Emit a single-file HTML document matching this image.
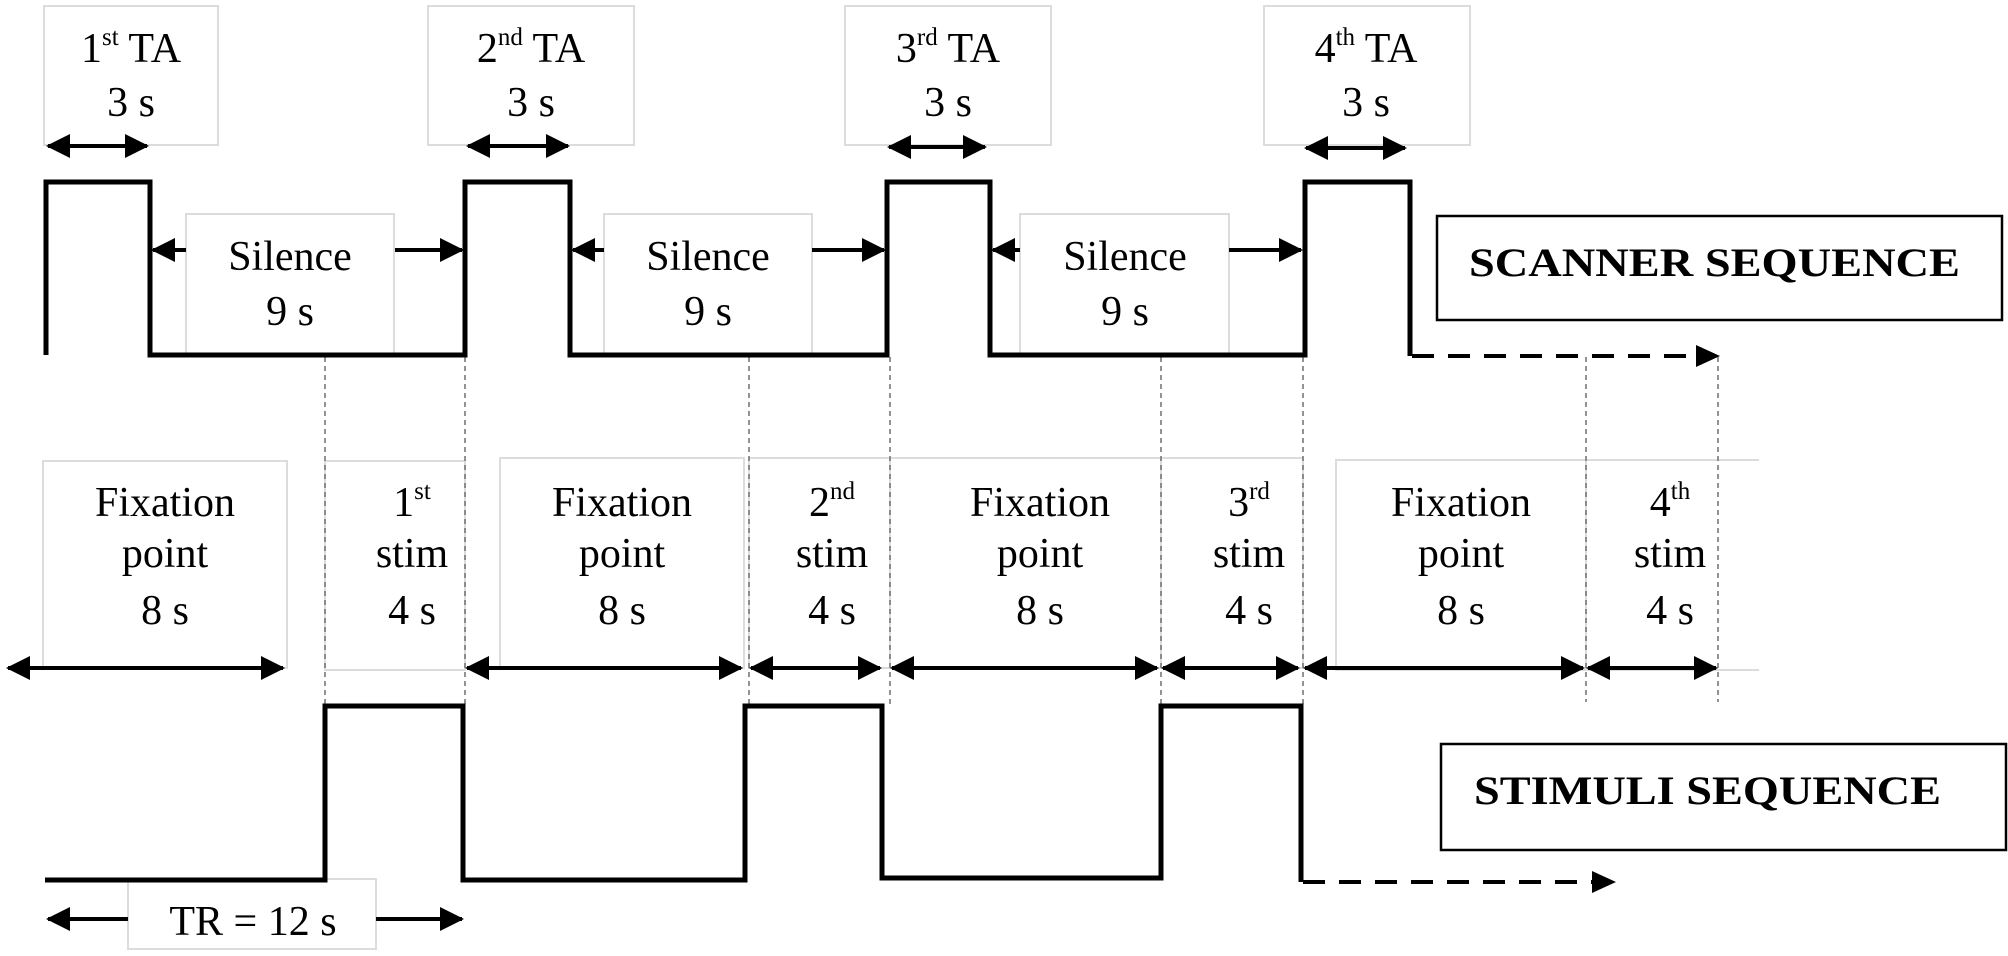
<!DOCTYPE html>
<html><head><meta charset="utf-8"><style>
html,body{margin:0;padding:0;background:#fff;}
svg{display:block;}
text{font-family:"Liberation Serif",serif;fill:#000;}
</style></head><body>
<svg width="2008" height="956" viewBox="0 0 2008 956" xmlns="http://www.w3.org/2000/svg">
<defs>
<marker id="ah" markerWidth="6" markerHeight="6" refX="5.5" refY="3" orient="auto-start-reverse" markerUnits="strokeWidth"><path d="M0,0 L6,3 L0,6 z" fill="#000"/></marker>
</defs>
<g fill="none" stroke="#dcdcdc" stroke-width="2">
<rect x="44" y="6" width="174" height="139"/>
<rect x="428" y="6" width="206" height="139"/>
<rect x="845" y="6" width="206" height="139"/>
<rect x="1264" y="6" width="206" height="139"/>
<rect x="186" y="214" width="208" height="141"/>
<rect x="604" y="214" width="208" height="141"/>
<rect x="1020" y="214" width="209" height="141"/>
<rect x="43" y="461" width="244" height="207"/>
<rect x="325" y="461" width="140" height="209"/>
<rect x="500" y="458" width="244" height="210"/>
<rect x="749" y="458" width="141" height="210"/>
<rect x="890" y="458" width="271" height="210"/>
<rect x="1161" y="458" width="142" height="210"/>
<rect x="1336" y="460" width="250" height="210"/>
<line x1="1586" y1="460" x2="1759" y2="460"/>
<line x1="1586" y1="670" x2="1759" y2="670"/>
<rect x="128" y="879" width="248" height="70"/>
</g>
<g stroke="#777" stroke-width="1.6" stroke-dasharray="5,4">
<line x1="325" y1="357" x2="325" y2="705"/>
<line x1="465" y1="357" x2="465" y2="705"/>
<line x1="749" y1="357" x2="749" y2="705"/>
<line x1="890" y1="357" x2="890" y2="705"/>
<line x1="1161" y1="357" x2="1161" y2="705"/>
<line x1="1303" y1="357" x2="1303" y2="705"/>
<line x1="1586" y1="357" x2="1586" y2="702"/>
<line x1="1718" y1="357" x2="1718" y2="702"/>
</g>
<g fill="none" stroke="#000" stroke-width="5" stroke-linejoin="miter">
<polyline points="46,355 46,182 150,182 150,355 465,355 465,182 570,182 570,355 887,355 887,182 990,182 990,355 1305,355 1305,182 1410,182 1410,356"/>
<polyline points="45,880 325,880 325,706 463,706 463,880 745,880 745,706 882,706 882,878 1161,878 1161,706 1301,706 1301,882"/>
</g>
<g stroke="#000" stroke-width="4" stroke-dasharray="22,14" fill="none">
<line x1="1412" y1="356" x2="1700" y2="356"/>
<line x1="1303" y1="882" x2="1596" y2="882"/>
</g>
<g fill="#000">
<path d="M1720,356 L1696,345 L1696,367 z"/>
<path d="M1616,882 L1592,871 L1592,893 z"/>
</g>
<g stroke="#000" stroke-width="4" fill="none" marker-start="url(#ah)" marker-end="url(#ah)">
<line x1="48" y1="146" x2="147" y2="146"/>
<line x1="468" y1="146" x2="568" y2="146"/>
<line x1="889" y1="147" x2="985" y2="147"/>
<line x1="1306" y1="148" x2="1405" y2="148"/>
<line x1="8" y1="668" x2="283" y2="668"/>
<line x1="467" y1="668" x2="741" y2="668"/>
<line x1="751" y1="668" x2="880" y2="668"/>
<line x1="892" y1="668" x2="1157" y2="668"/>
<line x1="1163" y1="668" x2="1298" y2="668"/>
<line x1="1305" y1="668" x2="1583" y2="668"/>
<line x1="1588" y1="668" x2="1716" y2="668"/>
</g>
<g stroke="#000" stroke-width="4" fill="none" marker-end="url(#ah)">
<line x1="186" y1="250" x2="153" y2="250"/>
<line x1="395" y1="250" x2="462" y2="250"/>
<line x1="604" y1="250" x2="573" y2="250"/>
<line x1="812" y1="250" x2="884" y2="250"/>
<line x1="1020" y1="250" x2="993" y2="250"/>
<line x1="1229" y1="250" x2="1301" y2="250"/>
<line x1="128" y1="919" x2="48" y2="919"/>
<line x1="376" y1="919" x2="462" y2="919"/>
</g>
<g font-size="42" text-anchor="middle">
<text x="131" y="62">1<tspan font-size="25" dy="-17">st</tspan><tspan dy="17"> TA</tspan></text>
<text x="131" y="116">3 s</text>
<text x="531" y="62">2<tspan font-size="25" dy="-17">nd</tspan><tspan dy="17"> TA</tspan></text>
<text x="531" y="116">3 s</text>
<text x="948" y="62">3<tspan font-size="25" dy="-17">rd</tspan><tspan dy="17"> TA</tspan></text>
<text x="948" y="116">3 s</text>
<text x="1366" y="62">4<tspan font-size="25" dy="-17">th</tspan><tspan dy="17"> TA</tspan></text>
<text x="1366" y="116">3 s</text>
<text x="290" y="270">Silence</text><text x="290" y="325">9 s</text>
<text x="708" y="270">Silence</text><text x="708" y="325">9 s</text>
<text x="1125" y="270">Silence</text><text x="1125" y="325">9 s</text>
<text x="165" y="516">Fixation</text><text x="165" y="567">point</text><text x="165" y="624">8 s</text>
<text x="622" y="516">Fixation</text><text x="622" y="567">point</text><text x="622" y="624">8 s</text>
<text x="1040" y="516">Fixation</text><text x="1040" y="567">point</text><text x="1040" y="624">8 s</text>
<text x="1461" y="516">Fixation</text><text x="1461" y="567">point</text><text x="1461" y="624">8 s</text>
<text x="412" y="516">1<tspan font-size="25" dy="-17">st</tspan></text><text x="412" y="567">stim</text><text x="412" y="624">4 s</text>
<text x="832" y="516">2<tspan font-size="25" dy="-17">nd</tspan></text><text x="832" y="567">stim</text><text x="832" y="624">4 s</text>
<text x="1249" y="516">3<tspan font-size="25" dy="-17">rd</tspan></text><text x="1249" y="567">stim</text><text x="1249" y="624">4 s</text>
<text x="1670" y="516">4<tspan font-size="25" dy="-17">th</tspan></text><text x="1670" y="567">stim</text><text x="1670" y="624">4 s</text>
<text x="253" y="935">TR = 12 s</text>
</g>
<rect x="1437" y="216" width="565" height="104" fill="none" stroke="#000" stroke-width="2.5"/>
<text x="1469" y="276" font-size="40" font-weight="bold" textLength="491" lengthAdjust="spacingAndGlyphs">SCANNER SEQUENCE</text>
<rect x="1441" y="744" width="565" height="106" fill="none" stroke="#000" stroke-width="2.5"/>
<text x="1474" y="804" font-size="40" font-weight="bold" textLength="467" lengthAdjust="spacingAndGlyphs">STIMULI SEQUENCE</text>
</svg>
</body></html>
